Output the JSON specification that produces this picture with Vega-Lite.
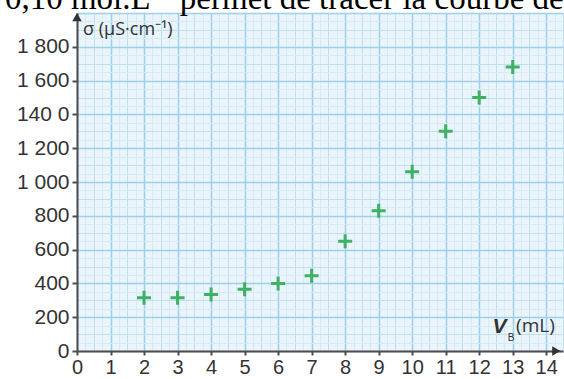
{
  "$schema": "https://vega.github.io/schema/vega-lite/v6.json",
  "width": 486,
  "height": 338,
  "autosize": {"type": "none"},
  "padding": {"left": 77, "top": 13, "right": 1, "bottom": 28},
  "background": "#ffffff",
  "config": {"view": {"fill": "#eaf4fb", "stroke": null}},
  "resolve": {"axis": {"x": "independent", "y": "independent"}},
  "data": {
    "values": [
      {"V": 2, "sigma": 315},
      {"V": 3, "sigma": 315},
      {"V": 4, "sigma": 335},
      {"V": 5, "sigma": 365},
      {"V": 6, "sigma": 400},
      {"V": 7, "sigma": 445},
      {"V": 8, "sigma": 650},
      {"V": 9, "sigma": 830},
      {"V": 10, "sigma": 1060},
      {"V": 11, "sigma": 1300},
      {"V": 12, "sigma": 1500},
      {"V": 13, "sigma": 1680}
    ]
  },
  "layer": [
    {
      "mark": {"type": "point", "shape": "M-1,0H1M0,-1V1", "filled": false, "strokeWidth": 3, "size": 196, "color": "#3fb064", "opacity": 1},
      "encoding": {
        "x": {
          "field": "V", "type": "quantitative",
          "scale": {"domain": [0, 14.5], "nice": false, "zero": false},
          "axis": {
            "title": null,
            "values": [0,0.25,0.5,0.75,1,1.25,1.5,1.75,2,2.25,2.5,2.75,3,3.25,3.5,3.75,4,4.25,4.5,4.75,5,5.25,5.5,5.75,6,6.25,6.5,6.75,7,7.25,7.5,7.75,8,8.25,8.5,8.75,9,9.25,9.5,9.75,10,10.25,10.5,10.75,11,11.25,11.5,11.75,12,12.25,12.5,12.75,13,13.25,13.5,13.75,14,14.25,14.5],
            "grid": true,
            "gridColor": {"condition": [{"test": "datum.value % 1 === 0", "value": "#9fd0eb"}, {"test": "datum.value % 0.5 === 0", "value": "#c0e0f2"}], "value": "#d6ebf7"},
            "gridWidth": {"condition": {"test": "datum.value % 1 === 0", "value": 1.5}, "value": 1},
            "domain": true,
            "domainColor": "#4d4d4d",
            "domainWidth": 2,
            "ticks": true,
            "tickColor": "#4d4d4d",
            "tickWidth": 2,
            "tickSize": 4,
            "tickOpacity": {"condition": {"test": "datum.value % 1 === 0 && datum.value <= 14", "value": 1}, "value": 0},
            "labelExpr": "datum.value % 1 === 0 && datum.value <= 14 ? toString(datum.value) : ''",
            "labelOverlap": false,
            "labelFlush": false,
            "labelBound": false,
            "labelFont": "Liberation Sans",
            "labelFontSize": 20,
            "labelColor": "#333333",
            "labelPadding": 2
          }
        },
        "y": {
          "field": "sigma", "type": "quantitative",
          "scale": {"domain": [0, 2000], "nice": false, "zero": false},
          "axis": {
            "title": null,
            "values": [0,50,100,150,200,250,300,350,400,450,500,550,600,650,700,750,800,850,900,950,1000,1050,1100,1150,1200,1250,1300,1350,1400,1450,1500,1550,1600,1650,1700,1750,1800,1850,1900,1950,2000],
            "grid": true,
            "gridColor": {"condition": [{"test": "datum.value % 200 === 0", "value": "#9fd0eb"}, {"test": "datum.value % 100 === 0", "value": "#c0e0f2"}], "value": "#d6ebf7"},
            "gridWidth": {"condition": {"test": "datum.value % 200 === 0", "value": 1.5}, "value": 1},
            "domain": true,
            "domainColor": "#4d4d4d",
            "domainWidth": 2,
            "ticks": true,
            "tickColor": "#4d4d4d",
            "tickWidth": 2,
            "tickSize": 5,
            "tickOpacity": {"condition": {"test": "datum.value % 200 === 0 && datum.value <= 1800", "value": 1}, "value": 0},
            "labelExpr": "datum.value % 200 === 0 && datum.value <= 1800 ? (datum.value === 1400 ? '140 0' : (datum.value >= 1000 ? '1 ' + substring(toString(datum.value), 1) : toString(datum.value))) : ''",
            "labelOverlap": false,
            "labelFlush": false,
            "labelBound": false,
            "labelFont": "Liberation Sans",
            "labelFontSize": 21,
            "labelColor": "#333333",
            "labelPadding": 3
          }
        }
      }
    },
    {
      "data": {"values": [{}]},
      "mark": {"type": "point", "shape": "triangle-up", "filled": true, "size": 90, "color": "#333333", "opacity": 1},
      "encoding": {"x": {"datum": 0, "type": "quantitative", "axis": null}, "y": {"datum": 1975, "type": "quantitative", "axis": null}}
    },
    {
      "data": {"values": [{}]},
      "mark": {"type": "point", "shape": "triangle-right", "filled": true, "size": 90, "color": "#333333", "opacity": 1},
      "encoding": {"x": {"datum": 14.3, "type": "quantitative", "axis": null}, "y": {"datum": 0, "type": "quantitative", "axis": null}}
    },
    {
      "data": {"values": [{}]},
      "mark": {"type": "text", "text": "σ (µS·cm⁻¹)", "font": "Open Sans", "fontSize": 18, "color": "#333333", "align": "left", "baseline": "middle"},
      "encoding": {"x": {"datum": 0.18, "type": "quantitative", "axis": null}, "y": {"datum": 1900, "type": "quantitative", "axis": null}}
    },
    {
      "data": {"values": [{}]},
      "mark": {"type": "text", "text": "V", "font": "Liberation Sans", "fontSize": 21, "fontWeight": "bold", "fontStyle": "italic", "color": "#333333", "align": "left", "baseline": "alphabetic"},
      "encoding": {"x": {"datum": 12.4, "type": "quantitative", "axis": null}, "y": {"datum": 105, "type": "quantitative", "axis": null}}
    },
    {
      "data": {"values": [{}]},
      "mark": {"type": "text", "text": "B", "font": "Liberation Sans", "fontSize": 10, "color": "#333333", "align": "left", "baseline": "alphabetic"},
      "encoding": {"x": {"datum": 12.85, "type": "quantitative", "axis": null}, "y": {"datum": 62, "type": "quantitative", "axis": null}}
    },
    {
      "data": {"values": [{}]},
      "mark": {"type": "text", "text": "(mL)", "font": "Open Sans", "fontSize": 19, "color": "#333333", "align": "left", "baseline": "alphabetic"},
      "encoding": {"x": {"datum": 13.1, "type": "quantitative", "axis": null}, "y": {"datum": 110, "type": "quantitative", "axis": null}}
    },
    {
      "data": {"values": [{}]},
      "mark": {"type": "text", "text": "0,10 mol.L⁻¹ permet de tracer la courbe de", "font": "Liberation Serif", "fontSize": 33, "color": "#000000", "align": "left", "baseline": "alphabetic"},
      "encoding": {"x": {"datum": -2.15, "type": "quantitative", "axis": null}, "y": {"datum": 2025, "type": "quantitative", "axis": null}}
    }
  ]
}
